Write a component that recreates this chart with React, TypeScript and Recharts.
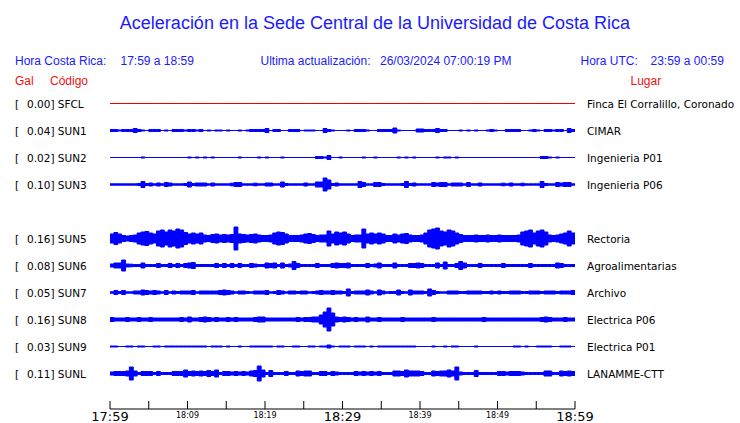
import React from "react";
import { ComposedChart, Area, XAxis, YAxis } from "recharts";

const TITLE = "Aceleración en la Sede Central de la Universidad de Costa Rica";
const LOCAL_RANGE = "17:59 a 18:59";
const UPDATED = "26/03/2024 07:00:19 PM";
const UTC_RANGE = "23:59 a 00:59";

const CODES = ["SFCL", "SUN1", "SUN2", "SUN3", "SUN5", "SUN6", "SUN7", "SUN8", "SUN9", "SUNL"];
const GAL = ["0.00", "0.04", "0.02", "0.10", "0.16", "0.08", "0.05", "0.16", "0.03", "0.11"];
const PLACES = [
  "Finca El Corralillo, Coronado",
  "CIMAR",
  "Ingenieria P01",
  "Ingenieria P06",
  "Rectoria",
  "Agroalimentarias",
  "Archivo",
  "Electrica P06",
  "Electrica P01",
  "LANAMME-CTT",
];
// slot in the list (SUN4 has no trace)
const SLOTS = [0, 1, 2, 3, 5, 6, 7, 8, 9, 10];
const COLORS = ["#ee0000", "#0000ff", "#0000ff", "#0000ff", "#0000ff", "#0000ff", "#0000ff", "#0000ff", "#0000ff", "#0000ff"];

// minutes after 17:59
const TICKS = [0, 5, 10, 15, 20, 25, 30, 35, 40, 45, 50, 55, 60];
const TICK_LABELS: Record<number, string> = {
  0: "17:59",
  10: "18:09",
  20: "18:19",
  30: "18:29",
  40: "18:39",
  50: "18:49",
  60: "18:59",
};
const BIG_TICKS = [0, 30, 60];

// envelope half-amplitudes, one value per half minute (120 samples)
const SFCL = [
  0, 0, 0, 0, 0, 0, 0, 0, 0, 0,
  0, 0, 0, 0, 0, 0, 0, 0, 0, 0,
  0, 0, 0, 0, 0, 0, 0, 0, 0, 0,
  0, 0, 0, 0, 0, 0, 0, 0, 0, 0,
  0, 0, 0, 0, 0, 0, 0, 0, 0, 0,
  0, 0, 0, 0, 0, 0, 0, 0, 0, 0,
  0, 0, 0, 0, 0, 0, 0, 0, 0, 0,
  0, 0, 0, 0, 0, 0, 0, 0, 0, 0,
  0, 0, 0, 0, 0, 0, 0, 0, 0, 0,
  0, 0, 0, 0, 0, 0, 0, 0, 0, 0,
  0, 0, 0, 0, 0, 0, 0, 0, 0, 0,
  0, 0, 0, 0, 0, 0, 0, 0, 0, 0,
];
const SUN1 = [
  1.5, 1.5, 1, 1.5, 1.5, 1.5, 2.5, 1.5, 1, 0.5,
  1.5, 1.5, 1.5, 0.5, 1, 0.5, 1.5, 1.5, 1.5, 1,
  1.5, 1.5, 1, 1.5, 0.5, 1, 0.5, 1, 1, 0.5,
  1, 0.5, 0.5, 1, 0.5, 1, 1.5, 1.5, 1.5, 1.5,
  2.5, 0.5, 1.5, 1.5, 0.5, 0.5, 1.5, 1.5, 1.5, 0.5,
  1, 1, 1, 0.5, 0.5, 2.5, 1.5, 1, 0.5, 0.5,
  0.5, 1, 0.5, 1.5, 1.5, 1.5, 1, 0.5, 0.5, 1.5,
  1.5, 1.5, 1.5, 3, 1, 0.5, 0.5, 0.5, 0.5, 2,
  2, 1.5, 1.5, 1.5, 2.5, 1.5, 1.5, 0.5, 0.5, 0.5,
  1, 0.5, 1, 0.5, 1, 0.5, 0.5, 1, 1.5, 1,
  0.5, 0.5, 1.5, 1.5, 1.5, 1.5, 0.5, 0.5, 1, 1.5,
  1, 0.5, 1.5, 1.5, 1, 1.5, 1.5, 0.5, 2.5, 1.5,
];
const SUN2 = [
  0, 0, 0, 0, 0, 0, 0, 0, 1, 0,
  0, 0, 0, 0, 0, 0, 0, 0, 0, 0,
  1, 0.5, 1, 0.5, 1, 0, 1, 0, 0, 0.5,
  0, 0.5, 0, 1, 0, 0, 0, 0, 1, 0.5,
  1, 0, 0.5, 0, 1, 0, 0, 0, 0, 0,
  0.5, 0, 0, 1.5, 1.5, 1, 2.5, 0, 0, 1,
  0, 0, 0, 0, 0, 1, 0, 0, 1, 0,
  0.5, 0, 0, 0, 1, 0.5, 1, 0, 1, 0,
  0, 0, 0, 0, 1, 0.5, 1, 1, 0, 1,
  0, 0, 0, 0, 0, 0, 0, 0, 0, 0,
  0, 0, 0, 0, 0, 0, 0, 0, 0, 0,
  0, 1.5, 1.5, 1, 0, 1, 0, 0, 0, 0,
];
const SUN3 = [
  1.2, 1.2, 1.2, 1.2, 1.2, 1.2, 1.2, 1.5, 3.5, 1.5,
  2, 1.2, 2, 1.2, 2.5, 2, 1.2, 1.2, 1.2, 1.5,
  3, 1.5, 2, 2, 2, 1.2, 2, 1.2, 1.2, 1.2,
  1.2, 1.8, 2.5, 2.5, 1.2, 1.2, 1.2, 1.8, 1.2, 1.2,
  2, 2, 1.2, 1.2, 3, 1.5, 1.2, 1.2, 1.2, 1.2,
  2, 1.2, 1.2, 3, 3, 7, 5, 1.5, 2, 1.2,
  1.2, 1.2, 1.2, 1.2, 3.5, 2.5, 1.2, 1.2, 2.5, 2.5,
  1.5, 1.2, 1.2, 1.2, 1.2, 1.5, 3.5, 1.5, 2, 1.2,
  1.2, 1.2, 1.2, 2.5, 2, 2.5, 2.5, 1.2, 2, 2,
  2, 1.2, 2.5, 1.2, 1.2, 2, 1.2, 1.2, 1.2, 1.2,
  1.2, 1.8, 1.2, 2, 1.2, 1.2, 1.8, 1.2, 1.2, 1.2,
  1.2, 3.5, 1.5, 1.2, 1.2, 2.5, 2, 2.5, 2.5, 1.2,
];
const SUN5 = [
  5, 6.5, 5, 3.5, 3, 3.5, 4, 6, 7, 7.5,
  6, 5, 8, 9, 7, 9, 8, 10, 9, 6.5,
  5, 6, 5, 6, 4, 3.5, 4.5, 5, 4, 4.5,
  4, 4.5, 12, 5, 4.5, 4, 4.5, 5, 4, 3.5,
  3.5, 4, 6, 7, 6.5, 5, 3.5, 3.5, 3.5, 4,
  5, 5.5, 4.5, 3.5, 4, 4, 8, 5, 7, 6,
  7, 5, 3.5, 4, 4, 10, 5, 6, 5, 6,
  5, 3.5, 3.5, 5, 4, 5, 5.5, 4, 3.5, 3.5,
  4, 6, 9, 10, 11, 8, 7, 9, 8, 6,
  4.5, 3.5, 3.5, 3.5, 4, 3.5, 3.5, 4, 3.5, 3.5,
  4, 3.5, 3.5, 3.5, 3.5, 4, 7, 8, 9, 6,
  8, 9, 7, 4, 3.5, 4, 5, 6, 8, 6,
];
const SUN6 = [
  2, 3, 3, 6, 2, 1.8, 1.5, 1.5, 3, 1.5,
  1.5, 1.5, 2.5, 1.5, 1.5, 2.5, 1.5, 2.5, 1.5, 2.5,
  3, 3.5, 1.5, 1.5, 1.5, 1.5, 1.5, 2.5, 1.5, 2.5,
  1.5, 2.5, 1.5, 2.5, 1.5, 1.5, 2.5, 2, 1.5, 1.5,
  3, 2.5, 3, 1.5, 3, 1.5, 2, 4.5, 2.5, 1.5,
  1.5, 1.5, 1.5, 2.5, 1.5, 1.5, 1.5, 2.5, 3, 2.5,
  2.5, 3, 1.5, 1.5, 1.5, 1.5, 2.5, 1.5, 2, 3,
  1.5, 1.5, 1.5, 3, 1.5, 1.5, 1.5, 2.5, 2.5, 3,
  2.5, 1.5, 1.5, 1.5, 3, 1.5, 4, 1.5, 1.5, 2.5,
  4.5, 3, 1.5, 1.5, 1.5, 2.5, 1.5, 1.5, 1.5, 1.5,
  1.5, 2.5, 1.5, 1.5, 1.5, 1.5, 1.5, 1.5, 2.5, 1.5,
  1.5, 1.5, 1.5, 1.5, 1.5, 3, 2.5, 1.5, 1.5, 1.5,
];
const SUN7 = [
  1.2, 2.5, 1.5, 2.5, 1.2, 1.2, 2, 2, 3, 2.5,
  2, 2.5, 2, 1.2, 2.5, 1.2, 2, 1.5, 2, 2,
  2, 2.5, 1.2, 2, 2, 2, 2, 2, 2.5, 3,
  2.5, 2, 1.2, 2, 2, 1.5, 1.2, 2, 2, 2,
  2.5, 1.2, 1.5, 2.5, 2, 1.2, 2, 2, 1.5, 2,
  2, 1.2, 1.5, 2, 2.5, 2, 2, 2.5, 2, 2,
  1.5, 4, 1.5, 2, 2, 2, 3, 2, 1.2, 3,
  2, 1.2, 1.5, 1.5, 3, 1.5, 1.2, 3, 2, 2,
  2, 1.5, 4, 2.5, 1.5, 1.2, 1.2, 2, 2, 2,
  1.5, 1.5, 2, 2, 2, 2, 1.5, 1.5, 2, 1.5,
  2, 1.5, 1.5, 2, 2, 2, 1.5, 1.5, 2, 2,
  2, 1.5, 2, 2, 2, 1.5, 2, 2, 2, 2.5,
];
const SUN8 = [
  2.5, 2, 2, 2, 2.5, 2, 2, 2.5, 2, 2,
  2.5, 2, 2, 2, 2, 2, 2, 2, 2.5, 2,
  3, 2, 2, 2.5, 3, 2.5, 2, 2.5, 2, 2,
  2.5, 2, 2.5, 2, 2, 2, 2, 2.5, 3, 3,
  2, 2, 2, 2, 2, 2, 2, 2, 2.5, 2,
  2.5, 2.5, 3, 3, 5, 8, 12, 7, 3, 2.5,
  3, 2.5, 2, 2.5, 2, 2, 3, 2, 2, 2.5,
  2, 2, 2, 2, 2, 2.5, 2, 2, 2, 2,
  2, 2, 2, 2.5, 2, 2, 2, 2, 2, 2,
  2, 2, 2, 2, 2, 2, 2.5, 2, 2, 2,
  2, 2, 2, 2, 2, 2, 2, 2, 2, 2,
  2, 2.5, 3, 2.5, 2, 2, 2, 2.5, 2, 2,
];
const SUN9 = [
  1, 1, 0.3, 0.5, 1, 1, 0.5, 1, 1, 0.3,
  0.5, 1, 1, 0.3, 1, 1, 1, 1, 1, 1,
  1, 1, 1, 1, 1, 0.5, 1, 1, 1, 0.3,
  1, 0.5, 0.3, 1, 0.3, 0.5, 1, 1, 1, 1,
  1, 1, 0.5, 1, 1, 0.3, 0.5, 1, 1, 0.5,
  0.3, 1, 1, 0.3, 1, 1, 2, 1, 0.5, 1,
  1, 1, 0.5, 1, 1, 1, 0.3, 1, 0.3, 1,
  1, 1, 1, 1, 1, 1, 1, 1, 1, 0.3,
  0.3, 0.5, 0.3, 1, 0.3, 0.5, 1, 0.3, 1, 1,
  0.3, 0.3, 0.5, 0.3, 1, 0.3, 0.3, 0.3, 0.3, 0.3,
  0.3, 0.5, 0.3, 0.3, 1, 1, 0.5, 1, 0.3, 0.5,
  1, 1, 1, 1, 0.3, 0.5, 1, 1, 1, 0.5,
];
const SUNL = [
  2, 2.5, 2.5, 2.5, 3, 7, 3, 1.5, 2.5, 2.5,
  2.5, 1.5, 2.5, 1.5, 1.5, 1.5, 2.5, 2.5, 2.5, 4,
  2.5, 3, 2.5, 3, 2.5, 3.5, 2.5, 4, 1.5, 2.5,
  2.5, 2, 2.5, 2, 2.5, 2, 3, 3.5, 8, 4,
  1.5, 3.5, 1.5, 1.5, 1.5, 2.5, 1.5, 1.5, 3, 2.5,
  3, 3, 1.5, 1.5, 2.5, 2.5, 1.5, 2.5, 2, 1.5,
  1.5, 1.5, 1.5, 2.5, 2, 2.5, 2, 2.5, 2, 2.5,
  1.5, 1.5, 1.5, 3, 3, 2.5, 4, 3, 3, 3,
  2.5, 1.5, 1.5, 3, 2.5, 3, 3, 4, 3, 7,
  2, 1.5, 1.5, 1.5, 3.5, 1.5, 1.5, 1.5, 1.5, 1.5,
  2.5, 2.5, 2, 2.5, 2.5, 2.5, 2, 1.5, 1.5, 1.5,
  1.5, 1.5, 3, 3, 1.5, 1.5, 3, 2.5, 3, 2.5,
];

const AMPS = [SFCL, SUN1, SUN2, SUN3, SUN5, SUN6, SUN7, SUN8, SUN9, SUNL];

// layout (pixels)
const W = 740;
const H = 423;
const PLOT_TOP = 90;
const AXIS_Y = 409;
const PLOT_LEFT = 110;
const PLOT_RIGHT = 575;
const ROW0 = 103.5;
const ROW_STEP = 27;
const Y_MAX = AXIS_Y - PLOT_TOP;
const STROKE_HALF = 0.5; // the outline stroke adds half a pixel on each side
const center = (slot: number) => AXIS_Y - (ROW0 + ROW_STEP * slot);

const N = 120;
const STEP = 0.5;
const data: any[] = [];
for (let i = 0; i <= N; i++) {
  const row: any = { t: i * STEP };
  CODES.forEach((code, k) => {
    const a = Math.max(AMPS[k][Math.min(i, N - 1)] - STROKE_HALF, 0);
    const c = center(SLOTS[k]);
    row[code] = [c - a, c + a];
  });
  data.push(row);
}
const ROW_TICKS = SLOTS.map((s) => center(s));
const indexOfTick = (v: number) => ROW_TICKS.findIndex((t) => Math.abs(t - v) < 0.01);

const SANS = "'DejaVu Sans', sans-serif";
const HEAD = "'Liberation Sans', Arial, sans-serif";

const LeftTick = (props: any) => {
  const { y, payload } = props;
  const k = indexOfTick(payload.value);
  if (k < 0) return null;
  return (
    <g>
      <text x={15} y={y + 4} fontFamily={SANS} fontSize={10.5} fill="#000">[</text>
      <text x={27} y={y + 4} fontFamily={SANS} fontSize={10.5} fill="#000">
        {GAL[k] + "] " + CODES[k]}
      </text>
    </g>
  );
};

const RightTick = (props: any) => {
  const { y, payload } = props;
  const k = indexOfTick(payload.value);
  if (k < 0) return null;
  return (
    <text x={587} y={y + 4} fontFamily={SANS} fontSize={10.5} fill="#000">
      {PLACES[k]}
    </text>
  );
};

const TimeTick = (props: any) => {
  const { x, payload } = props;
  const v = payload.value;
  const label = TICK_LABELS[v];
  const big = BIG_TICKS.includes(v);
  return (
    <g>
      <line x1={x} x2={x} y1={AXIS_Y - 8} y2={AXIS_Y} stroke="#000" strokeWidth={1} />
      {label ? (
        <text
          x={x}
          y={big ? 421 : 418}
          textAnchor="middle"
          fontFamily={SANS}
          fontSize={big ? 13 : 8}
          fill="#000"
        >
          {label}
        </text>
      ) : null}
    </g>
  );
};

export default function App() {
  return (
    <div style={{ position: "absolute", left: 0, top: 0, width: W, height: H, background: "#fff" }}>
      <ComposedChart
        width={W}
        height={H}
        data={data}
        margin={{ top: PLOT_TOP, right: 0, bottom: 0, left: 0 }}
      >
        <XAxis
          dataKey="t"
          type="number"
          domain={[0, 60]}
          ticks={TICKS}
          interval={0}
          height={H - AXIS_Y}
          tickLine={false}
          tickSize={0}
          tickMargin={0}
          axisLine={{ stroke: "#000", strokeWidth: 1 }}
          tick={<TimeTick />}
          allowDataOverflow
        />
        <YAxis
          yAxisId="left"
          orientation="left"
          type="number"
          domain={[0, Y_MAX]}
          ticks={ROW_TICKS}
          interval={0}
          width={PLOT_LEFT}
          axisLine={false}
          tickLine={false}
          tick={<LeftTick />}
          allowDataOverflow
        />
        <YAxis
          yAxisId="right"
          orientation="right"
          type="number"
          domain={[0, Y_MAX]}
          ticks={ROW_TICKS}
          interval={0}
          width={W - PLOT_RIGHT}
          axisLine={false}
          tickLine={false}
          tick={<RightTick />}
          allowDataOverflow
        />
        {CODES.map((code, k) => (
          <Area
            key={code}
            yAxisId="left"
            dataKey={code}
            type="stepAfter"
            stroke={COLORS[k]}
            strokeWidth={1}
            fill={COLORS[k]}
            fillOpacity={1}
            dot={false}
            activeDot={false}
            isAnimationActive={false}
          />
        ))}
      </ComposedChart>
      <svg
        width={W}
        height={H}
        style={{ position: "absolute", left: 0, top: 0, pointerEvents: "none" }}
      >
        <text x={375} y={29} textAnchor="middle" fontFamily={HEAD} fontSize={18} fill="#1a1aff">
          {TITLE}
        </text>
        <text x={15} y={65} fontFamily={HEAD} fontSize={12} fill="#1a1aff">Hora Costa Rica:</text>
        <text x={120.5} y={65} fontFamily={HEAD} fontSize={12} fill="#1a1aff">{LOCAL_RANGE}</text>
        <text x={260.5} y={65} fontFamily={HEAD} fontSize={12} fill="#1a1aff">Ultima actualización:</text>
        <text x={380} y={65} fontFamily={HEAD} fontSize={12} fill="#1a1aff">{UPDATED}</text>
        <text x={580.5} y={65} fontFamily={HEAD} fontSize={12} fill="#1a1aff">Hora UTC:</text>
        <text x={650.5} y={65} fontFamily={HEAD} fontSize={12} fill="#1a1aff">{UTC_RANGE}</text>
        <text x={15} y={85} fontFamily={HEAD} fontSize={12} fill="#ee1111">Gal</text>
        <text x={50} y={85} fontFamily={HEAD} fontSize={12} fill="#ee1111">Código</text>
        <text x={630.5} y={85} fontFamily={HEAD} fontSize={12} fill="#ee1111">Lugar</text>
      </svg>
    </div>
  );
}
